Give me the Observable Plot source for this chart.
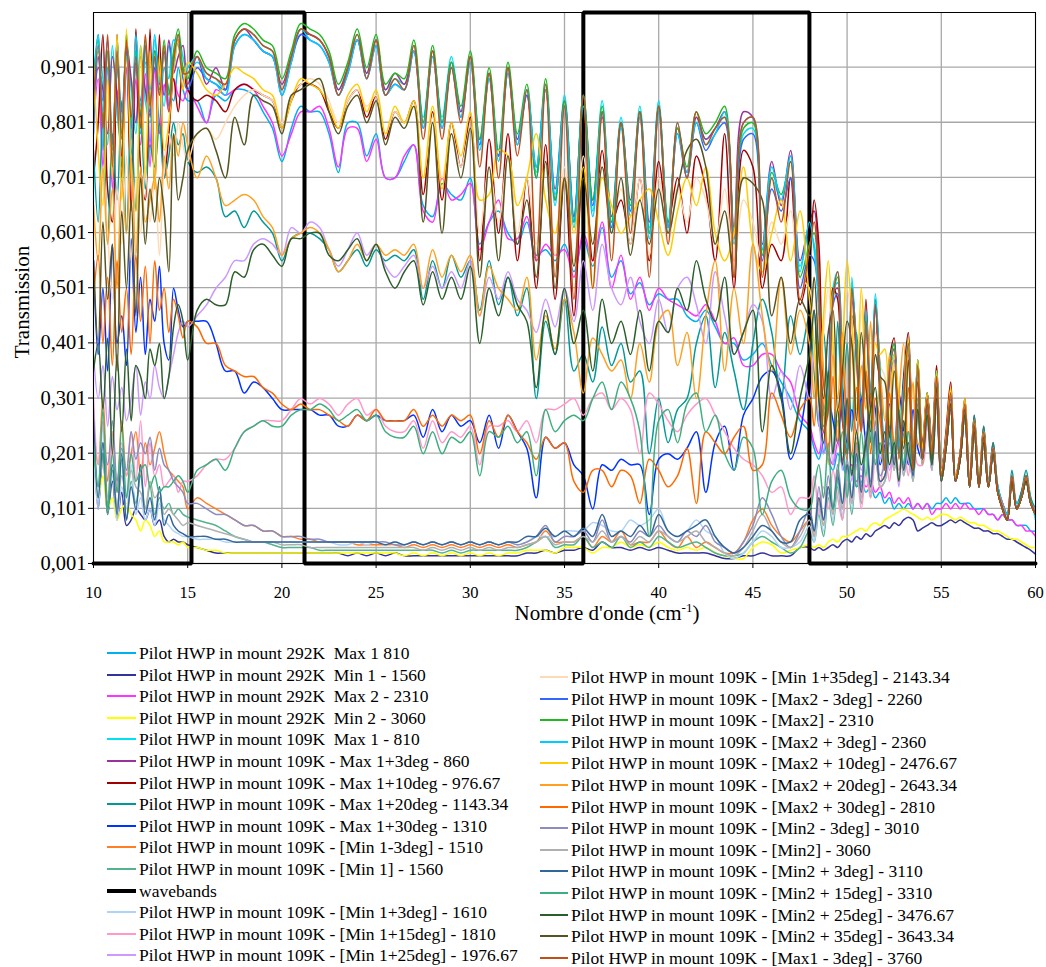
<!DOCTYPE html>
<html><head><meta charset="utf-8">
<script src="https://cdn.jsdelivr.net/npm/d3@7"></script>
<script src="https://cdn.jsdelivr.net/npm/@observablehq/plot@0.6"></script>
<style>
body{margin:0;background:#fff;font-family:Liberation Serif, serif;}
#wrap{position:relative;width:1046px;height:967px;overflow:hidden;font-family:Liberation Serif, serif;}
.lg{position:absolute;white-space:pre;font-size:17.5px;line-height:20px;color:#000;font-family:Liberation Serif, serif;}
.sw{position:absolute;}
#dbg{position:absolute;left:600px;top:20px;color:red;font-size:12px;}
</style></head><body><div id="wrap"></div>
<script>
// ---- x sampling (wavenumber, cm-1) ----
const xA = [10,10.25,10.5,10.75,11,11.25,11.5,11.75,12,12.25,12.5,12.75,13,13.25,13.5,13.75,14,14.25,14.5,14.75,15];
const xB = [15.5,16,16.5,17,17.5,18,18.5,19,19.5,20, 20.5,21,21.5,22,22.5,23,23.5,24,24.5,25,
  25.5,26,26.5,27,27.5,28,28.5,29,29.5,30, 30.5,31,31.5,32,32.5,33,33.5,34,34.5,35,
  35.5,36,36.5,37,37.5,38,38.5,39,39.5,40, 40.5,41,41.5,42,42.5,43,43.5,44,44.5,45, 45.5,46,46.5,47,47.5];
const xC = [48,48.25,48.5,48.75,49,49.25,49.5,49.75, 50,50.25,50.5,50.75,51,51.25,51.5,51.75,
  52,52.25,52.5,52.75,53,53.25,53.5,53.75, 54,54.25,54.5,54.75,55,55.25,55.5,55.75,
  56,56.25,56.5,56.75,57,57.25,57.5,57.75, 58,58.25,58.5,58.75,59,59.25,59.5,59.75, 60];
const wavenumber = xA.concat(xB, xC);

// ---- transmission values, in percent ----
const t292Max1 = [88,96,75,93,70,95,72,96,74,90,78,94,76,92,80,90,86,84,90,86,84,
 84,80,85,84,86,86,85,82,79,73, 79,83,82,82,78,71,80,80,74,78, 70,70,73,76,65,63,69,67,66,70,
 58,62,64,60,58,62,56,57,55,58, 53,59,54,61,52,55,49,51,47,49, 48,48,45,44,46,43,40,40,37,38, 40,36,33,30,26,
 24,21,19,22,19,17,20,18, 16,17,14,15,13,14,12,13, 11,12,10,11,10,11,10,11, 10,11,10,11,11,12,11,12,
 11,11,11,10,10,10,9,9, 8,9,8,8,7,7,7,6, 6];
const t292Min1 = [24,10,20,9,15,8,13,7,8,10,9,8,10,7,8,5,4,4.5,4,4,3.5,
 3,2.5,2,2,2,2,2,2,2,2, 2,2,2,2,2,2,1.5,2,1.5,2, 1.5,2,1.5,1.5,1.5,1.5,1.5,1.5,1.5,1.5,
 1.5,1.5,1.5,1.5,1.5,2,2,2.5,2,2.5, 2.5,3,2.5,4,3,3,2.5,3,2.5,3, 2.5,2,2,2,2,1.5,1,1,1.5,1.5, 2,1.5,1.5,1.5,3,
 3,2.5,3,2.5,3,3.5,3,4, 4.5,4,5,4.5,5.5,5,6,6.5, 7,6.5,7.5,7,8,8.5,8,6, 6.5,7,7.5,7,7,7.5,8,7.5,
 8,7.5,7,6.5,6.5,6,6,5.5, 5.5,5,4.5,4.5,4,3.5,3,2.5, 1.8];
const t292Max2 = [80,88,72,90,68,86,74,90,70,88,76,89,72,90,78,87,82,88,85,84,86,
 83,80,86,85,86,87,86,83,80,74, 78,82,82,83,79,72,79,79,73,77, 70,70,74,76,64,62,70,66,67,69,
 57,62,66,59,59,63,55,58,56,57, 52,60,55,62,50,56,48,52,46,50, 48,47,46,45,47,44,40,41,36,36, 38,38,35,33,27,
 25,22,20,24,20,18,22,19, 17,18,15,16,14,15,13,14, 12,13,11,12,11,12,10,11, 10,11,9,10,10,11,10,11,
 10,11,10,10,9,10,9,9, 8,9,8,8,7,7,6,6, 5];
const t292Min2 = [22,12,16,10,12,8,10,11,9,8,6,8,7,5,6,4,4,4,3.5,4,3,
 3,2.5,2.5,2,2,2,2,2,2,2, 2,2,2,2,2,2,2,2,2,2, 2,2,1.5,2,1.5,2,1.5,2,1.5,2,
 1.5,2,1.5,2,2,2.5,2.5,2.5,2,3, 3,3,2,3,3,4,3,3.5,3,4, 3,2.5,3,2.5,3,2,1.5,1,1,3, 4,3.5,2,2.5,3,
 3.5,3,3.5,3,4,4.5,4,5, 5,5.5,6,6.5,6,7,7.5,7, 8,8.5,9,9.5,10,9.5,9,8.5, 8,8.5,8,8.5,9,9,8.5,8,
 8.5,8,7.5,7.5,7,7,6.5,6, 6,5.5,5,4.5,4.5,4,3.5,3, 3];
const t109Max1 = [80,93,88,76,94,82,75,95,86,78,94,84,80,95,88,83,94,90,96,92,89,
 91,89,88,86,95,97,96,94,93,86, 92,97,96,95,92,86,90,96,89,95, 86,88,87,94,81,93,81,92,82,92,
 76,89,74,90,77,86,71,87,65,85, 63,84,64,84,61,81,64,83,61,84, 60,80,70,81,77,79,81,58,78,79, 57,70,66,74,54,
 60,58,48,27,32,50,53,28, 21,52,38,27,44,32,47,33, 19,34,38,21,31,39,17,36, 19,31,21,34,17,23,30,16,
 19,28,15,25,15,23,15,20, 13,11,9,15,10,13,15,12, 8];
const t109Max1p3 = [82,90,86,78,92,85,74,94,88,80,92,86,82,93,90,85,95,89,92,94,87,
 92,87,90,86,95,97,95,93,92,87, 92,96,96,95,92,86,90,95,89,95, 86,89,87,93,80,93,80,91,82,92,
 77,89,74,90,77,85,72,86,68,84, 63,84,66,81,63,80,66,82,62,83, 61,79,71,81,77,79,82,61,82,81, 58,73,65,75,55,
 62,64,52,28,33,49,50,31, 22,50,39,27,45,31,47,35, 19,36,39,21,31,40,19,37, 20,31,21,35,17,23,31,16,
 20,29,15,26,15,24,15,21, 14,11,9,16,11,12,16,11, 10];
const t109Max1p10 = [70,80,96,68,62,96,70,95,64,97,72,66,97,68,96,70,78,88,82,90,86,
 84,85,84,82,86,87,86,85,84,79, 84,87,87,86,82,79,84,86,81,85, 77,82,80,84,67,82,66,80,72,81,
 55,77,60,78,55,70,50,76,48,70, 45,73,55,75,62,66,58,70,55,73, 62,70,60,74,68,55,78,50,75,72, 50,58,55,70,47,
 55,66,58,33,28,50,48,26, 22,45,40,26,48,28,47,30, 20,37,41,22,34,42,20,35, 22,31,22,36,16,24,33,15,
 20,30,15,27,14,25,14,22, 13,10,8,16,10,13,16,11, 10];
const t109Max1p20 = [75,62,82,58,78,66,84,60,80,64,82,68,76,72,80,70,74,80,76,78,73,
 71,72,70,63,64,61,64,62,60,55, 59,60,60,59,57,53,55,57,54,57, 55,56,55,57,48,55,50,56,52,55,
 46,55,47,52,45,50,30,44,38,48, 35,38,33,43,36,40,33,35,20,30, 22,28,30,40,45,32,42,35,28,40, 48,42,30,45,38,
 45,35,25,42,30,20,44,28, 40,24,42,30,35,22,48,30, 20,36,40,21,32,41,18,37, 21,31,21,35,17,23,31,16,
 20,30,15,27,15,25,15,22, 14,11,9,17,11,13,17,12, 10];
const t109Max1p30 = [55,38,50,35,58,40,45,36,59,42,52,38,48,44,54,40,37,50,46,43,44,
 44,44,40,35,35,31,33,32,30,28, 28,28,28,27,27,25,25,27,26,27, 26,26,26,27,23,28,24,27,25,26,
 22,27,21,27,24,21,12,23,21,22, 18,16,10,18,17,19,18,18,9,19, 20,19,21,24,13,22,25,17,27,30, 34,35,31,19,24,
 36,46,30,20,30,26,22,32, 20,28,24,30,22,31,28,18, 22,29,20,31,24,18,28,21, 19,28,18,31,15,21,28,15,
 19,27,14,24,14,22,14,20, 13,10,8,15,10,12,15,11, 9];
const t109Min1m3 = [25,18,30,15,24,13,26,16,20,24,16,22,18,21,24,20,17,16,15,14,10,
 12,11,10,9,8,7,7,6,6,5, 5,4.5,4.5,4,4,4,4,3.5,3.5,3.5, 3.5,3.5,3,3.5,3,3.5,3,3.5,3,3.5,
 3,3.5,3,3.5,3,3.5,4,6,4,4, 4,5,3,5,4,6,3.5,4,4,6, 4,3,5,3,4,3,2,2,4,8, 10,7,5,4,6,
 8,5,12,7,14,9,17,10, 18,11,20,13,22,14,24,15, 16,24,18,27,17,22,16,28, 19,27,18,30,15,21,28,15,
 19,27,14,24,14,22,14,20, 13,10,8,15,10,12,15,11, 9];
const t109Min1 = [24,12,20,9,17,10,19,8,15,11,16,10,14,9,12,10,11,9,10,9,8.5,
 8,7.5,7,6,5,4.5,4,4,3.5,3, 3,3,3,2.5,2.5,2.5,2.5,2.5,2.5,2.5, 2.5,2.5,2.5,2.5,2.5,2.5,2,2.5,2,2.5,
 2.5,2.5,2.5,2.5,2.5,3,4,5,3,3.5, 3.5,5,3,4,3,5,3,4,3,5, 4,3,3.5,4,3,2,1.5,1.5,2,4, 5,4,3,2,3,
 6,4,9,5,12,7,14,8, 16,9,18,11,20,12,22,14, 15,22,17,26,16,21,15,27, 18,26,17,29,15,21,28,15,
 19,27,14,24,14,22,14,20, 13,10,8,15,10,12,15,11, 9];
const t109Min1p3 = [20,10,25,12,16,8,14,10,18,9,12,8,10,7,11,8,7,6,5.5,5,5,
 4.5,4.5,4.5,4,4,4,4,4,4,4, 4,4,4,4,4,3.5,3.5,4,3.5,4, 3.5,4,3.5,4,3.5,4,3.5,4,3.5,4,
 3.5,4,3.5,4,3.5,4,5,5,5,6, 6,6,7.5,7,6,6,8,7,8,10, 6,5,6,8,6,5,2,1,2,4, 6,5,3,3,4,
 7,4,10,6,13,8,15,9, 17,10,19,12,21,13,23,14, 15,23,17,26,16,21,15,27, 18,26,17,29,15,21,28,15,
 19,27,14,24,14,22,14,20, 13,10,8,15,10,12,15,11, 9];
const t109Min1p15 = [30,18,26,12,24,14,22,16,24,15,26,14,22,16,18,14,15,16,13,15,15,
 16,18,19,19,21,24,25,26,26,26, 28,30,29,30,29,27,29,30,27,28, 25,24,24,26,21,26,22,24,23,25,
 18,25,25,26,24,26,22,28,28,29, 30,27,30,31,28,30,28,20,31,29, 26,24,27,29,30,27,24,21,19,18, 16,13,14,9,12,
 12,16,9,14,10,17,12,8, 15,11,18,10,16,12,19,14, 20,15,22,17,21,16,24,18, 18,26,17,29,15,21,28,15,
 19,27,14,24,14,22,14,20, 13,10,8,15,10,12,15,11, 9];
const t109Min1p25 = [38,30,36,25,34,28,32,26,30,36,27,33,30,36,32,30,34,38,42,44,43,
 45,47,50,52,55,55,58,59,58,56, 61,60,62,61,57,54,57,60,56,58, 54,52,54,56,50,54,50,53,50,55,
 45,52,48,53,48,46,42,48,43,50, 44,55,46,58,50,47,52,44,40,48, 42,50,52,47,40,53,45,38,42,47, 44,30,35,28,36,
 30,38,26,20,32,18,26,17, 28,15,23,17,21,26,30,19, 22,17,21,14,24,19,16,27, 18,26,17,29,15,21,28,15,
 19,27,14,24,14,22,14,20, 13,10,8,15,10,12,15,11, 9];
const t109Min1p35 = [65,55,72,60,48,68,58,74,55,70,60,72,62,70,56,72,78,74,80,76,73,
 78,79,77,80,83,85,86,85,84,80, 85,87,88,87,84,80,84,86,83,85, 78,82,80,83,70,81,70,78,72,79,
 60,72,62,74,60,70,58,72,56,72, 55,74,58,72,62,68,58,70,56,70, 58,68,62,70,66,58,68,55,66,62, 55,62,58,64,52,
 50,38,28,42,50,36,24,40, 50,42,26,46,33,25,42,36, 34,24,36,28,22,38,19,34, 20,30,19,33,16,21,30,15,
 19,29,14,25,14,23,14,20, 13,10,8,15,10,12,15,11, 9];
const t109Max2m3 = [78,92,84,95,76,90,82,93,79,91,84,94,81,90,87,93,83,92,95,88,86,
 90,88,87,86,94,96,95,93,92,85, 91,96,95,94,91,85,89,95,88,94, 85,87,86,93,79,92,79,90,81,91,
 76,88,74,89,76,85,70,86,66,83, 62,85,65,82,61,80,64,81,60,82, 61,78,70,80,75,78,80,59,77,78, 55,68,64,70,50,
 56,55,46,24,30,47,49,28, 20,48,37,24,43,31,46,33, 18,33,37,20,30,38,17,35, 19,29,20,33,16,22,30,15,
 19,28,14,25,14,23,14,20, 13,10,8,15,10,12,15,11, 9];
const t109Max2 = [88,95,80,93,75,92,78,96,80,93,82,95,84,93,86,95,85,93,97,90,88,
 93,90,89,88,96,98,97,95,94,88, 93,98,97,96,93,87,91,97,90,96, 87,89,88,95,80,94,80,91,83,93,
 77,90,75,91,78,87,70,88,66,84, 62,85,66,83,62,80,65,82,60,83, 62,79,72,82,78,80,83,60,79,80, 56,71,67,73,52,
 58,60,50,25,30,48,52,30, 20,50,40,25,45,30,48,35, 18,35,40,20,30,40,18,37, 20,30,20,35,16,22,31,15,
 20,29,14,26,14,24,14,21, 13,10,8,16,10,12,16,11, 9];
const t109Max2p3 = [85,96,82,90,73,95,80,92,77,96,83,91,86,96,85,92,88,95,94,89,90,
 92,88,87,85,94,96,95,93,92,85, 91,97,95,94,91,85,89,95,88,94, 85,87,86,93,79,92,79,90,81,91,
 75,88,73,89,76,86,72,86,67,83, 61,83,63,82,60,79,63,81,59,82, 61,78,71,80,76,78,82,59,80,81, 57,72,66,74,53,
 62,57,47,28,31,49,51,29, 21,51,39,26,46,31,49,34, 19,36,39,21,32,40,19,36, 20,30,21,35,17,22,31,16,
 20,29,15,26,15,24,15,21, 14,11,9,16,11,12,16,11, 10];
const t109Max2p10 = [90,75,65,88,70,96,66,97,72,64,94,70,93,68,92,75,80,90,95,86,91,
 89,86,85,87,90,89,88,86,85,79, 84,88,87,86,83,79,85,87,82,86, 78,83,80,84,70,83,68,80,74,82,
 66,67,75,74,65,70,78,66,60,70, 60,72,50,70,65,60,63,66,68,62, 56,64,70,65,72,60,55,60,72,58, 53,60,66,55,64,
 48,40,30,45,55,40,25,38, 55,45,28,50,35,26,40,38, 39,25,38,30,22,41,20,37, 21,31,20,35,17,22,32,16,
 19,30,14,26,15,24,14,21, 13,10,8,15,10,12,16,11, 9];
const t109Max2p20 = [65,55,72,58,68,50,70,60,74,56,72,62,66,70,62,74,68,78,74,80,76,
 70,74,70,65,66,67,66,63,61,56, 59,60,61,60,57,53,55,58,55,58, 56,57,56,58,50,57,52,56,53,56,
 45,54,50,48,46,52,37,45,39,48, 42,31,41,38,35,37,30,40,33,44, 46,36,42,30,45,55,35,50,40,58, 45,35,52,38,46,
 40,30,45,35,18,38,30,42, 25,40,20,36,28,44,22,34, 26,38,18,30,40,20,33,22, 21,30,19,34,16,23,31,16,
 20,30,15,26,15,24,14,21, 13,11,8,16,10,12,16,11, 9];
const t109Max2p30 = [48,56,40,52,36,55,42,50,38,56,44,54,40,55,46,50,42,48,45,41,44,
 43,40,40,36,35,34,34,32,31,29, 28,29,28,28,27,26,25,27,26,28, 26,26,26,28,25,27,25,27,26,27,
 20,26,23,27,24,22,19,23,21,22, 15,13,17,17,14,17,16,11,19,17, 14,16,21,11,24,22,20,23,25,17, 18,31,27,23,28,
 30,25,40,28,20,34,22,36, 26,20,32,24,35,20,30,26, 18,31,22,27,17,32,21,29, 18,29,19,32,16,22,29,15,
 20,28,14,25,14,23,14,21, 13,11,8,16,10,12,16,11, 10];
const t109Min2m3 = [28,14,22,18,26,15,21,17,24,19,22,20,23,17,21,18,17,15,14,13,11,
 11,10,9,9,8,7,7,6,6,5, 5,5,4.5,4.5,4,4,4,4,4,4, 4,3.5,3.5,4,3.5,4,3.5,4,3.5,4,
 3.5,4,3.5,4,3.5,4,5,7,4,5, 5,6,4,8,4,5,4,6,5,7, 5,4,6,5,7,4,3,2,4,7, 12,9,5,3,6,
 10,6,14,8,16,10,18,11, 19,12,22,14,24,15,26,16, 18,25,19,28,18,24,17,29, 19,28,18,31,16,22,29,15,
 19,28,14,25,14,23,14,21, 13,11,8,16,10,12,16,11, 10];
const t109Min2 = [22,14,18,11,20,10,16,12,17,14,13,10,15,12,13,9,10,9,8,7,7.5,
 7,6.5,6,5.5,5,4.5,4,4,4,3.5, 3.5,3.5,3,3,3,3,3,3,3,3, 3,3,3,3,2.5,3,2.5,3,2.5,3,
 2.5,3,2.5,3,3,3.5,4,5,3.5,4, 4,5,4,6,4,5,3.5,5,4,6, 5,4,5,6,4,3,2,1.5,3,6, 9,6,4,3,5,
 8,5,11,7,13,9,15,10, 17,11,19,12,21,13,23,14, 15,23,17,26,16,21,15,27, 18,26,17,29,15,21,28,15,
 19,27,14,24,14,22,14,20, 13,10,8,15,10,12,15,11, 9];
const t109Min2p3 = [26,12,22,10,18,9,20,8,14,10,18,9,12,8,14,7,9,7,6,5.5,5,
 5,5,4.5,4.5,4,4,4,4,4,4, 4,4,4,4,4,4,4,4,4,4, 3.5,4,3.5,4,3.5,4,3.5,4,3.5,4,
 3.5,4,3.5,4,4,5,5,6.5,5,6, 5,6.5,5,9,5,6,5,7,5,9, 6,5,6,7,8,5,3,2,3,5, 7,6,4,4,8,
 9,6,12,8,14,10,16,11, 18,12,20,13,22,14,24,15, 16,24,18,27,17,22,16,28, 19,27,18,30,15,21,28,15,
 19,27,14,24,14,22,14,20, 13,10,8,15,10,12,15,11, 9];
const t109Min2p15 = [22,14,28,10,20,13,25,12,20,15,17,18,14,16,13,14,14,15,16,15,13,
 17,18,19,17,21,24,25,26,25,25, 27,28,28,29,28,26,27,28,26,27, 24,23,23,25,20,24,20,23,22,24,
 16,24,23,25,22,24,16,28,24,26, 27,26,30,33,28,33,30,24,5,26, 28,22,29,31,24,27,20,17,23,21, 9,15,17,12,10,
 10,14,18,12,22,10,16,24, 12,20,14,24,16,26,18,22, 17,25,20,28,18,24,17,30, 19,27,18,30,15,21,29,15,
 19,27,14,24,14,22,14,20, 13,10,8,15,10,12,15,11, 9];
const t109Min2p25 = [35,40,28,41,20,38,24,39,26,36,34,30,39,36,40,30,34,43,47,44,37,
 46,48,47,47,53,52,57,58,56,54, 59,59,60,60,56,55,57,59,55,58, 53,50,53,55,47,53,48,52,48,54,
 40,50,45,52,47,44,32,46,38,50, 40,46,35,48,40,44,38,46,35,44, 42,50,46,55,48,44,52,38,42,46, 24,36,30,20,30,
 38,46,30,22,35,20,28,18, 30,16,24,18,22,28,32,20, 24,18,22,15,26,20,17,28, 19,27,18,30,16,21,29,15,
 19,27,14,24,14,22,14,20, 13,10,8,15,10,12,15,11, 9];
const t109Min2p35 = [55,40,62,48,58,35,64,50,66,45,70,58,68,62,70,64,53,78,66,70,75,
 78,79,75,70,81,76,85,84,83,78, 85,86,87,88,82,78,83,85,80,84, 76,81,79,83,62,80,60,78,70,79,
 52,72,55,74,58,66,52,73,50,70, 54,70,58,72,60,70,56,66,58,68, 60,68,75,77,72,58,64,52,70,69, 66,45,52,40,48,
 45,52,38,30,42,46,28,35, 44,40,26,42,32,24,38,34, 33,23,35,27,21,37,18,33, 19,29,19,32,15,21,29,15,
 19,28,14,25,14,23,14,20, 13,10,8,15,10,12,15,11, 9];
const t109Max1m3 = [84,94,79,96,72,93,77,95,81,92,79,96,83,92,85,94,82,91,96,89,89,
 92,89,88,87,95,97,96,94,93,86, 92,97,96,95,92,85,90,96,88,95, 85,88,86,94,77,93,77,90,80,92,
 72,89,70,90,74,86,55,87,52,83, 48,85,50,82,55,80,60,82,52,83, 58,80,70,82,76,79,81,52,80,81, 52,70,62,73,48,
 57,62,50,24,28,48,53,27, 19,50,38,24,44,29,47,32, 17,35,39,19,30,40,17,36, 19,30,20,34,16,22,31,15,
 20,29,14,26,14,24,14,21, 13,10,8,16,10,12,16,11, 9];

// ---- wavebands outline ----
const wavebandX = [10, 15.2, 15.2, 21.2, 21.2, 36, 36, 48, 48, 60];
const wavebandY = [0.001, 0.001, 1, 1, 0.001, 0.001, 1, 1, 0.001, 0.001];

// ---- series labels and colours (legend order) ----
const seriesLabels = [
 "Pilot HWP in mount 292K  Max 1 810",
 "Pilot HWP in mount 292K  Min 1 - 1560",
 "Pilot HWP in mount 292K  Max 2 - 2310",
 "Pilot HWP in mount 292K  Min 2 - 3060",
 "Pilot HWP in mount 109K  Max 1 - 810",
 "Pilot HWP in mount 109K - Max 1+3deg - 860",
 "Pilot HWP in mount 109K - Max 1+10deg - 976.67",
 "Pilot HWP in mount 109K - Max 1+20deg - 1143.34",
 "Pilot HWP in mount 109K - Max 1+30deg - 1310",
 "Pilot HWP in mount 109K - [Min 1-3deg] - 1510",
 "Pilot HWP in mount 109K - [Min 1] - 1560",
 "Pilot HWP in mount 109K - [Min 1+3deg] - 1610",
 "Pilot HWP in mount 109K - [Min 1+15deg] - 1810",
 "Pilot HWP in mount 109K - [Min 1+25deg] - 1976.67",
 "Pilot HWP in mount 109K - [Min 1+35deg] - 2143.34",
 "Pilot HWP in mount 109K - [Max2 - 3deg] - 2260",
 "Pilot HWP in mount 109K - [Max2] - 2310",
 "Pilot HWP in mount 109K - [Max2 + 3deg] - 2360",
 "Pilot HWP in mount 109K - [Max2 + 10deg] - 2476.67",
 "Pilot HWP in mount 109K - [Max2 + 20deg] - 2643.34",
 "Pilot HWP in mount 109K - [Max2 + 30deg] - 2810",
 "Pilot HWP in mount 109K - [Min2 - 3deg] - 3010",
 "Pilot HWP in mount 109K - [Min2] - 3060",
 "Pilot HWP in mount 109K - [Min2 + 3deg] - 3110",
 "Pilot HWP in mount 109K - [Min2 + 15deg] - 3310",
 "Pilot HWP in mount 109K - [Min2 + 25deg] - 3476.67",
 "Pilot HWP in mount 109K - [Min2 + 35deg] - 3643.34",
 "Pilot HWP in mount 109K - [Max1 - 3deg] - 3760"
];
const seriesColors = [
 "#00B0F0","#333399","#FF33FF","#FFFF00","#00E0F0","#993399","#A00000","#009999",
 "#0033FF","#FF7F27","#52B38C","#B0D4F5","#FF99CC","#CC99FF","#FFD9B3","#3366FF",
 "#22B822","#00CCFF","#FFCC00","#FFA020","#FF6A00","#8C8CC0","#B0B0B0","#336699",
 "#3DAF7F","#2A5E2A","#555522","#C0501A"
];
const seriesValues = [t292Max1,t292Min1,t292Max2,t292Min2,t109Max1,t109Max1p3,t109Max1p10,t109Max1p20,
 t109Max1p30,t109Min1m3,t109Min1,t109Min1p3,t109Min1p15,t109Min1p25,t109Min1p35,t109Max2m3,
 t109Max2,t109Max2p3,t109Max2p10,t109Max2p20,t109Max2p30,t109Min2m3,t109Min2,t109Min2p3,
 t109Min2p15,t109Min2p25,t109Min2p35,t109Max1m3];
const wavebandLabel = "wavebands";

const xTicks = [10,15,20,25,30,35,40,45,50,55,60];
const yTicks = [0.001,0.101,0.201,0.301,0.401,0.501,0.601,0.701,0.801,0.901];

// ---- build ----
const SERIF = "Liberation Serif, serif";
const wrap = document.getElementById("wrap");
const bad = [];
const lineMarks = seriesValues.map((vals, i) => {
  if (vals.length !== wavenumber.length) bad.push(i + ":" + vals.length);
  const n = Math.min(vals.length, wavenumber.length);
  const rows = [];
  for (let j = 0; j < n; j++) rows.push({x: wavenumber[j], y: vals[j] / 100});
  return Plot.line(rows, {x: "x", y: "y", stroke: seriesColors[i], strokeWidth: 1.5, curve: "catmull-rom", clip: true});
});
const wbRows = wavebandX.map((x, j) => ({x, y: wavebandY[j]}));
const wbMark = Plot.line(wbRows, {x: "x", y: "y", stroke: "#000", strokeWidth: 4, strokeLinejoin: "miter"});

const fmtY = d => d.toFixed(3).replace(".", ",");
const gridStyle = {stroke: "#a8a8a8", strokeOpacity: 1, strokeWidth: 1.3};

const chart = Plot.plot({
  width: 1046, height: 630,
  marginLeft: 93, marginRight: 11, marginTop: 12, marginBottom: 67,
  x: {domain: [10, 60]},
  y: {domain: [0.001, 1.0]},
  style: {fontFamily: SERIF, fontSize: "17px", color: "#000", background: "#fff", overflow: "visible"},
  marks: [
    Plot.gridX({ticks: xTicks, ...gridStyle}),
    Plot.gridY({ticks: yTicks, ...gridStyle}),
    ...lineMarks.slice(0, 11),
    wbMark,
    ...lineMarks.slice(11),
    Plot.frame({stroke: "#000", strokeWidth: 1}),
    Plot.axisX({ticks: xTicks, tickSize: 5, tickPadding: 18, fontSize: 16.5, label: null, tickFormat: d => String(d)}),
    Plot.axisY({ticks: yTicks, tickSize: 5, tickPadding: 2, fontSize: 20.5, label: null, tickFormat: fmtY})
  ]
});
chart.style.position = "absolute";
chart.style.left = "0px";
chart.style.top = "0px";
wrap.appendChild(chart);

// axis titles
const svg = d3.select(chart);
svg.append("text")
  .attr("transform", "translate(22,302) rotate(-90)")
  .attr("text-anchor", "middle").attr("dominant-baseline", "central")
  .attr("font-size", 21).attr("fill", "#000").text("Transmission");
const xt = svg.append("text").attr("x", 607).attr("y", 620)
  .attr("text-anchor", "middle").attr("font-size", 21).attr("fill", "#000");
xt.append("tspan").text("Nombre d'onde (cm");
xt.append("tspan").attr("font-size", 13).attr("dy", -8).text("-1");
xt.append("tspan").attr("dy", 8).text(")");
svg.selectAll("text").attr("font-family", SERIF).style("font-family", SERIF);

// legend
const rowH = 21.6;
function addEntry(label, color, x0, x1, tx, cy, thick) {
  const sw = document.createElement("div");
  sw.className = "sw";
  const h = thick ? 4 : 2;
  sw.style.left = x0 + "px"; sw.style.width = (x1 - x0) + "px";
  sw.style.top = (cy - h / 2) + "px"; sw.style.height = h + "px";
  sw.style.background = color;
  wrap.appendChild(sw);
  const t = document.createElement("div");
  t.className = "lg";
  t.style.left = tx + "px"; t.style.top = (cy - 10) + "px";
  t.style.fontFamily = SERIF;
  t.textContent = label;
  wrap.appendChild(t);
}
const leftEntries = [];
for (let i = 0; i < 11; i++) leftEntries.push([seriesLabels[i], seriesColors[i], false]);
leftEntries.push([wavebandLabel, "#000", true]);
for (let i = 11; i < 14; i++) leftEntries.push([seriesLabels[i], seriesColors[i], false]);
leftEntries.forEach((e, k) => addEntry(e[0], e[1], 107, 136, 139, 653 + rowH * k, e[2]));
for (let i = 14; i < 28; i++) addEntry(seriesLabels[i], seriesColors[i], 540, 568, 571, 677 + rowH * (i - 14), false);

if (bad.length) { const d = document.createElement("div"); d.id = "dbg"; d.textContent = "LEN MISMATCH " + wavenumber.length + " : " + bad.join(" "); wrap.appendChild(d); }
</script></body></html>
